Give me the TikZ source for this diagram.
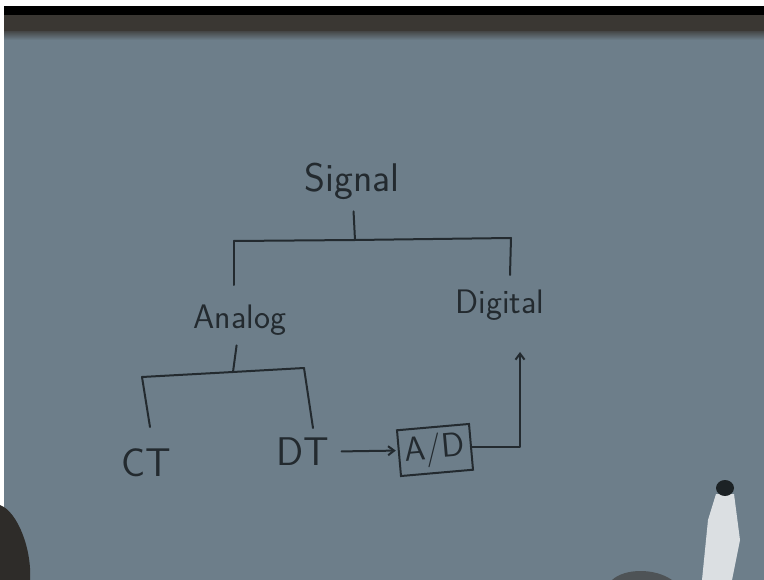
\documentclass[tikz,border=0pt]{standalone}
\usepackage{tikz}
\usetikzlibrary{arrows.meta,calc}
\definecolor{board}{HTML}{6D7E8A}
\definecolor{ink}{HTML}{232A2F}
\definecolor{rim}{HTML}{3A3733}

\begin{document}
\begin{tikzpicture}[x=1pt,y=-1pt,>={Straight Barb[length=6pt,width=9pt]},
  label/.style={text=ink,font=\sffamily\fontsize{34}{36}\selectfont,inner sep=4pt},
  big/.style={font=\sffamily\fontsize{40}{42}\selectfont},
  wire/.style={draw=ink,line width=2pt,line cap=round,line join=round}]
  % board and frame
  \useasboundingbox (0,0) rectangle (764,580);
  \fill[white] (0,0) rectangle (764,580);
  \fill[board] (4,6) rectangle (764,580);
  \fill[black] (4,6) rectangle (764,15);
  \fill[rim] (4,15) rectangle (764,32);
  \shade[top color=rim!70!board,bottom color=board] (4,32) rectangle (764,40);
  % labels
  \node[label,big] (sig) at (352,181) {Signal};
  \node[label] (ana) at (240,320) {Analog};
  \node[label] (dig) at (500,305) {Digital};
  \node[label,big] (ct) at (146,463) {CT};
  \node[label,big] (dt) at (303,452) {DT};
  \node[label,draw=ink,line width=2pt,inner sep=6pt,rotate=5] (ad) at (435,450) {A/D};
  % tree
  \coordinate (sigJ) at (355,240);
  \coordinate (sigL) at (234,241);
  \coordinate (sigR) at (511,238);
  \coordinate (anaJ) at (233,372);
  \coordinate (anaL) at (142,377);
  \coordinate (anaR) at (304,368);
  \coordinate (outUp) at (520,352);
  \draw[wire,shorten <=8pt] (sig) -- (sigJ);
  \draw[wire] (sigL) -- (sigJ) -- (sigR);
  \draw[wire] (sigL) -- (234,285);
  \draw[wire] (sigR) -- (510,275);
  \draw[wire,shorten <=6pt] (ana) -- (anaJ);
  \draw[wire] (anaL) -- (anaJ) -- (anaR);
  \draw[wire] (anaL) -- (150,427);
  \draw[wire] (anaR) -- (313,428);
  % conversion path
  \draw[wire,->,shorten <=8pt,shorten >=2pt] (dt) -- (ad);
  \draw[wire,->] (ad.east) -| (outUp);
  % marker and hand
  \fill[white!75!board] (702,580) -- (708,520) -- (716,494) -- (734,494) -- (740,540) -- (732,580) -- cycle;
  \fill[ink!80!black] (725,488) ellipse (9pt and 8pt);
  \fill[rim!80!black] (0,505) .. controls (18,512) and (32,550) .. (30,580) -- (0,580) -- cycle;
  \fill[rim!60!board] (612,580) .. controls (625,568) and (655,568) .. (672,580) -- cycle;
\end{tikzpicture}
\end{document}
